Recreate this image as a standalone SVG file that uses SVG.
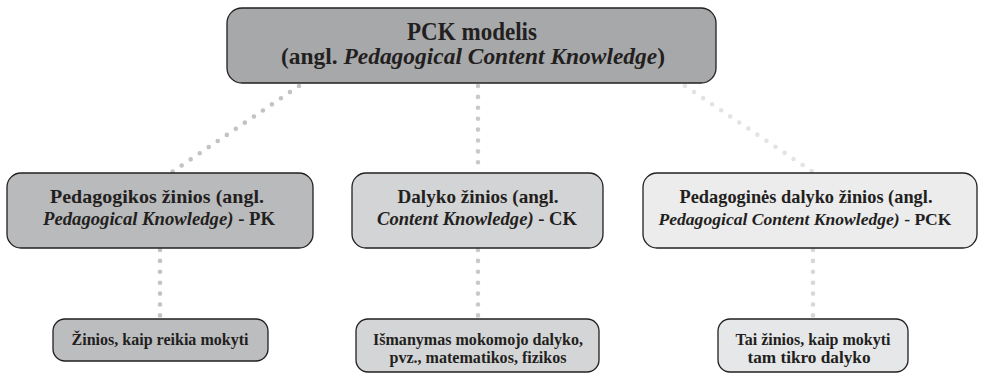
<svg xmlns="http://www.w3.org/2000/svg" width="982" height="376" viewBox="0 0 982 376">
<style>
.box{stroke:#231f20;stroke-width:1.3}
text{font-family:'Liberation Serif','Times New Roman',serif;font-weight:700;fill:#231f20;text-anchor:middle}
.i{font-style:italic}
.dot{fill:none;stroke-width:4.6;stroke-linecap:round;stroke-dasharray:0 10.9}
</style>
<rect width="982" height="376" fill="#ffffff"/>
<g id="connectors">
<line class="dot" x1="299" y1="86" x2="172" y2="172" stroke="#c2c3c5"/>
<line class="dot" x1="478" y1="86" x2="478" y2="172" stroke="#c8c9cb"/>
<line class="dot" x1="685" y1="86" x2="813" y2="172" stroke="#e2e3e4"/>
<line class="dot" x1="160" y1="250" x2="160" y2="318" stroke="#c2c3c5"/>
<line class="dot" x1="478" y1="250" x2="478" y2="318" stroke="#c8c9cb"/>
<line class="dot" x1="813" y1="250" x2="813" y2="318" stroke="#d6d7d8"/>
</g>
<g id="top">
<rect class="box" x="227" y="8" width="489" height="75" rx="15" fill="#a7a8aa"/>
<text x="472" y="40" font-size="25" textLength="130" lengthAdjust="spacingAndGlyphs">PCK modelis</text>
<text x="473" y="64" font-size="23" textLength="384" lengthAdjust="spacingAndGlyphs">(angl. <tspan class="i">Pedagogical Content Knowledge</tspan>)</text>
</g>
<g id="pk">
<rect class="box" x="7" y="173" width="306" height="75" rx="14" fill="#b9babc"/>
<text x="157" y="203" font-size="19" textLength="214" lengthAdjust="spacingAndGlyphs">Pedagogikos žinios (angl.</text>
<text x="159" y="225" font-size="18.4" textLength="232" lengthAdjust="spacingAndGlyphs"><tspan class="i">Pedagogical Knowledge)</tspan> - PK</text>
</g>
<g id="ck">
<rect class="box" x="352" y="173" width="251" height="75" rx="14" fill="#d3d4d6"/>
<text x="478" y="203" font-size="19" textLength="161" lengthAdjust="spacingAndGlyphs">Dalyko žinios (angl.</text>
<text x="477" y="225" font-size="18.4" textLength="200" lengthAdjust="spacingAndGlyphs"><tspan class="i">Content Knowledge)</tspan> - CK</text>
</g>
<g id="pck">
<rect class="box" x="643" y="173" width="334" height="75" rx="14" fill="#ececed"/>
<text x="806" y="203" font-size="19" textLength="253" lengthAdjust="spacingAndGlyphs">Pedagoginės dalyko žinios (angl.</text>
<text x="805" y="225" font-size="17.4" textLength="293" lengthAdjust="spacingAndGlyphs"><tspan class="i">Pedagogical Content Knowledge)</tspan> - PCK</text>
</g>
<g id="pk-desc">
<rect class="box" x="53" y="319" width="215" height="42" rx="12" fill="#bcbdbf"/>
<text x="160" y="345" font-size="16" textLength="177" lengthAdjust="spacingAndGlyphs">Žinios, kaip reikia mokyti</text>
</g>
<g id="ck-desc">
<rect class="box" x="356" y="319" width="243" height="53" rx="12" fill="#d4d5d7"/>
<text x="478" y="345" font-size="16" textLength="210" lengthAdjust="spacingAndGlyphs">Išmanymas mokomojo dalyko,</text>
<text x="478" y="363" font-size="16" textLength="177" lengthAdjust="spacingAndGlyphs">pvz., matematikos, fizikos</text>
</g>
<g id="pck-desc">
<rect class="box" x="718" y="319" width="190" height="53" rx="12" fill="#e6e7e8"/>
<text x="813" y="345" font-size="16" textLength="155" lengthAdjust="spacingAndGlyphs">Tai žinios, kaip mokyti</text>
<text x="809" y="363" font-size="16" textLength="123" lengthAdjust="spacingAndGlyphs">tam tikro dalyko</text>
</g>
</svg>
